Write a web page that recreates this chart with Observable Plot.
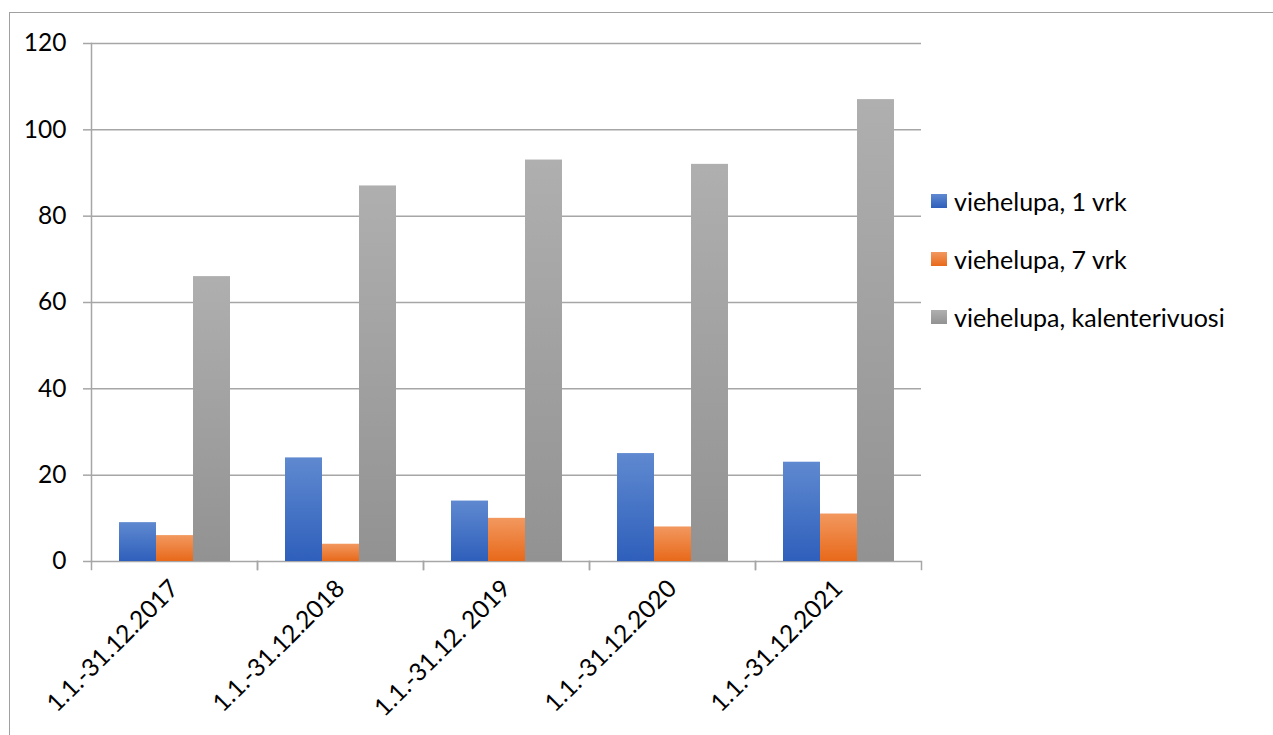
<!DOCTYPE html>
<html><head><meta charset="utf-8">
<script src="https://cdn.jsdelivr.net/npm/d3@7"></script>
<script src="https://cdn.jsdelivr.net/npm/@observablehq/plot@0.6"></script>
<style>
body{margin:0;background:#fff;font-family:Lato,"Open Sans",sans-serif;}
#wrap{position:relative;width:1273px;height:735px;overflow:hidden;}
#border{position:absolute;left:9px;top:12px;width:1300px;height:800px;border-left:1.5px solid #a0a0a0;border-top:1.5px solid #a0a0a0;}
#chart{position:absolute;left:0;top:0;}
#legend{position:absolute;left:931px;top:172px;}
.item{display:flex;align-items:center;height:58px;font-size:25px;color:#000;}
.sw{width:16px;height:14px;margin-right:7px;}
</style></head><body>
<div id="wrap"><div id="border"></div><div id="chart"></div><div id="legend"></div></div>
<script>
const categories = ["1.1.-31.12.2017","1.1.-31.12.2018","1.1.-31.12. 2019","1.1.-31.12.2020","1.1.-31.12.2021"];
const seriesNames = ["viehelupa, 1 vrk","viehelupa, 7 vrk","viehelupa, kalenterivuosi"];
const vrk1 = [9,24,14,25,23];
const vrk7 = [6,4,10,8,11];
const kalenterivuosi = [66,87,93,92,107];
const yTicks = [0,20,40,60,80,100,120];
const gradients = [["#5f89d0","#2e5fbb"],["#f2985f","#e8691a"],["#afafaf","#929292"]];

const seriesValues = [vrk1, vrk7, kalenterivuosi];
const data = [];
categories.forEach((c, i) => seriesNames.forEach((s, j) => data.push({category: c, series: s, value: seriesValues[j][i]})));

const grid = "#a6a6a6";
const plot = Plot.plot({
  width: 1273, height: 735,
  marginLeft: 91, marginRight: 352, marginTop: 43, marginBottom: 174,
  style: {fontFamily: "Lato, 'Open Sans', sans-serif", fontSize: "24.5px", color: "#000", background: "transparent"},
  fx: {domain: categories, paddingInner: 0, paddingOuter: 0, label: null},
  x: {domain: seriesNames, paddingInner: 0, paddingOuter: 0.713, axis: null},
  y: {domain: [0, 120], label: null},
  color: {domain: seriesNames, range: seriesNames.map((s, i) => `url(#grad${i})`)},
  marks: [
    Plot.gridY(yTicks, {stroke: grid, strokeOpacity: 1, strokeWidth: 1.5}),
    Plot.barY(data, {fx: "category", x: "series", y: "value", fill: "series"}),
    Plot.frame({anchor: "left", stroke: grid, strokeWidth: 1.5, insetTop: 518, insetBottom: -8}),
    Plot.frame({anchor: "right", stroke: grid, strokeWidth: 1.5, insetTop: 518, insetBottom: -8}),
    Plot.frame({anchor: "left", facet: "super", stroke: grid, strokeWidth: 1.5}),
    Plot.axisY(yTicks, {tickSize: 8, tickPadding: 17, stroke: grid, strokeWidth: 1.5, label: null}),
    Plot.axisFx({anchor: "bottom", tickRotate: -45, tickSize: 0, tickPadding: 23, label: null})
  ]
});

const svg = d3.select(plot);
const defs = svg.insert("defs", ":first-child");
gradients.forEach(([top, bottom], i) => {
  const g = defs.append("linearGradient").attr("id", `grad${i}`).attr("x1", 0).attr("y1", 0).attr("x2", 0).attr("y2", 1);
  g.append("stop").attr("offset", "0%").attr("stop-color", top);
  g.append("stop").attr("offset", "100%").attr("stop-color", bottom);
});
document.getElementById("chart").appendChild(plot);

const legend = d3.select("#legend");
seriesNames.forEach((s, i) => {
  const item = legend.append("div").attr("class", "item");
  item.append("div").attr("class", "sw").style("background", `linear-gradient(${gradients[i][0]}, ${gradients[i][1]})`);
  item.append("span").text(s);
});
</script>
</body></html>
